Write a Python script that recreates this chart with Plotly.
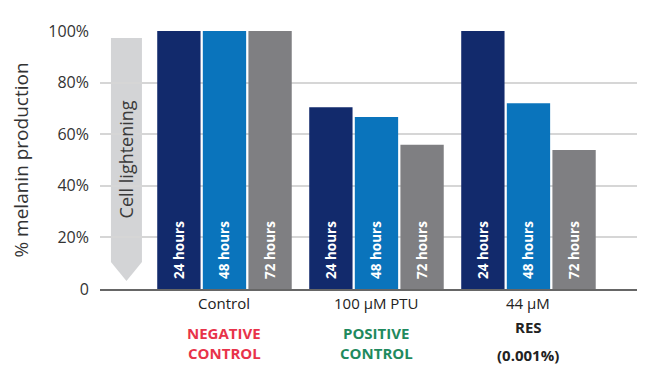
import plotly.graph_objects as go

categories = ["Control", "100 µM PTU", "44 µM RES"]
series_names = ["24 hours", "48 hours", "72 hours"]
values_24h = [100, 70.4, 100]
values_48h = [100, 66.7, 72.0]
values_72h = [100, 55.9, 53.9]
series_colors = ["#122a6c", "#0a74bc", "#7f7f82"]
y_tickvals = [0, 20, 40, 60, 80, 100]
y_ticktext = ["0", "20%", "40%", "60%", "80%", "100%"]

FONT = "Open Sans"
xpos = list(range(len(categories)))

fig = go.Figure()
for name, vals, col in zip(series_names, [values_24h, values_48h, values_72h], series_colors):
    fig.add_trace(go.Bar(
        x=xpos, y=vals, name=name, marker=dict(color=col, line=dict(width=0)),
        text=["\u00a0\u00a0" + f"<b>{name}</b>"] * len(vals), textposition="inside",
        insidetextanchor="start", textangle=-90,
        textfont=dict(color="white", size=13.5, family=FONT),
        constraintext="none", hoverinfo="skip",
    ))

# Cell lightening arrow (decoration)
xl, xr, xm = -0.747, -0.543, -0.645
fig.add_shape(type="path", xref="x", yref="y",
              path=f"M {xl},97.3 L {xr},97.3 L {xr},10.5 L {xm},3.1 L {xl},10.5 Z",
              fillcolor="#d3d4d6", line=dict(width=0), layer="below")
fig.add_annotation(x=xm, y=50.4, xref="x", yref="y", text="Cell lightening", textangle=-90,
                   showarrow=False, font=dict(family=FONT, size=18, color="#3a3a3a"))

# category labels
labels = [
    (0, -0.054, "Control", "#222222", False),
    (0, -0.171, "NEGATIVE", "#e8334a", True),
    (0, -0.248, "CONTROL", "#e8334a", True),
    (1, -0.054, "100 µM PTU", "#222222", False),
    (1, -0.171, "POSITIVE", "#1f8a5e", True),
    (1, -0.248, "CONTROL", "#1f8a5e", True),
    (2, -0.054, "44 µM", "#222222", False),
    (2, -0.147, "RES", "#222222", True),
    (2, -0.256, "(0.001%)", "#222222", True),
]
for xi, yp, txt, col, bold in labels:
    fig.add_annotation(x=xi, y=yp, xref="x", yref="paper", yanchor="middle",
                       text=f"<b>{txt}</b>" if bold else txt, showarrow=False,
                       font=dict(family=FONT, size=15, color=col))

fig.update_layout(
    width=648, height=367,
    margin=dict(l=92, r=19, t=23, b=86),
    plot_bgcolor="white", paper_bgcolor="white",
    barmode="group", bargap=0.1, bargroupgap=0.05,
    showlegend=False,
    font=dict(family=FONT, color="#333333"),
    xaxis=dict(range=[-0.819, 2.714], showticklabels=False, showgrid=False, zeroline=False,
               showline=True, linecolor="#666666", linewidth=2, ticks=""),
    yaxis=dict(range=[0, 100], tickvals=y_tickvals, ticktext=y_ticktext,
               showgrid=True, gridcolor="#d6d6d6", gridwidth=1.5, zeroline=False,
               showline=False, ticks="", ticklabelstandoff=10,
               tickfont=dict(family=FONT, size=16, color="#333333"),
               title=dict(text="% melanin production", standoff=14,
                          font=dict(family=FONT, size=19, color="#333333"))),
)

fig.write_html("out.html")
